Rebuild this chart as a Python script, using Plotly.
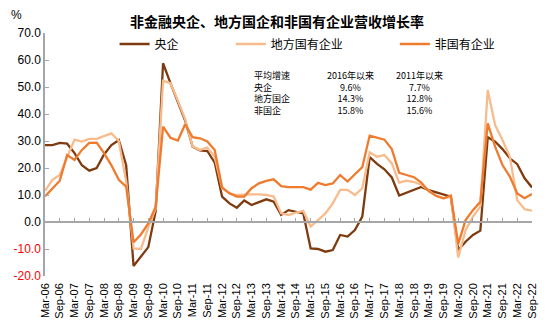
import plotly.graph_objects as go

# ---------------- data ----------------
months = ["Mar", "Jun", "Sep", "Dec"]
quarters = [f"{months[q]}-{y:02d}" for y in range(6, 23) for q in range(4)][:67]  # Mar-06 .. Sep-22

central = [28.5, 28.5, 29.3, 29.0, 25.5, 21.0, 19.0, 20.0, 25.0, 28.5, 30.3, 21.0,
           -16.3, -13.0, -9.3, 4.0, 58.8, 51.4, 44.5, 37.5, 27.9, 26.5, 26.3, 22.0,
           9.4, 6.9, 5.3, 8.0, 6.3, 7.5, 8.4, 7.5, 2.6, 4.4, 3.8, 3.2,
           -9.8, -10.0, -11.0, -10.4, -4.8, -5.4, -3.0, 2.0, 24.0, 21.5, 19.5, 16.5,
           9.8, 10.8, 12.0, 13.0, 11.8, 11.0, 10.0, 9.4, -10.4, -7.3, -4.8, -3.2,
           31.4, 29.8, 27.0, 23.6, 21.4, 16.2, 12.8]
local_soe = [11.5, 15.6, 17.4, 24.0, 30.5, 29.8, 30.8, 30.8, 31.7, 32.8, 30.0, 15.0,
             -9.8, -10.0, -2.0, 5.0, 52.3, 51.4, 45.0, 38.0, 28.0, 26.7, 27.6, 24.2,
             12.5, 10.6, 10.0, 10.2, 10.2, 10.2, 10.0, 9.4, 3.2, 2.6, 3.5, 4.1,
             -1.7, 0.7, 3.2, 6.9, 11.9, 11.9, 10.0, 12.5, 25.8, 24.2, 24.8, 21.7,
             14.6, 15.3, 14.8, 13.8, 11.6, 9.6, 8.8, 9.4, -13.1, -3.0, 2.0, 5.7,
             48.9, 35.9, 30.4, 24.2, 8.1, 4.7, 4.2]
private = [9.5, 12.5, 15.3, 24.8, 23.0, 26.7, 29.3, 29.4, 25.5, 21.0, 15.6, 13.1,
           -7.5, -4.6, -0.5, 5.7, 35.3, 31.2, 30.2, 36.2, 31.4, 31.0, 29.8, 26.7,
           12.8, 10.6, 9.4, 9.4, 12.5, 14.3, 15.2, 15.8, 13.3, 12.9, 12.9, 12.9,
           12.0, 14.5, 13.7, 14.3, 17.4, 15.0, 17.7, 20.3, 32.0, 31.3, 30.5, 27.0,
           18.2, 17.4, 16.6, 14.6, 11.4, 9.7, 8.8, 9.8, -8.1, 0.7, 4.4, 7.5,
           36.5, 27.9, 21.1, 16.8, 10.6, 8.8, 10.4]

series_names = ["央企", "地方国有企业", "非国有企业"]
series_colors = ["#7F3B10", "#F8BB8C", "#EE7B2E"]

y_ticks = [-20, -10, 0, 10, 20, 30, 40, 50, 60, 70]

table_rows = ["平均增速", "央企", "地方国企", "非国企"]
col_2016 = ["2016年以来", "9.6%", "14.3%", "15.8%"]
col_2011 = ["2011年以来", "7.7%", "12.8%", "15.6%"]

title = "非金融央企、地方国企和非国有企业营收增长率"

# ---------------- figure ----------------
W, H = 550, 334
ML, MR, MT, MB = 45, 15, 33, 58
PW, PH = W - ML - MR, H - MT - MB

def px_x(p):
    return (p - ML) / PW

def px_y(p):
    return (H - MB - p) / PH

xs = list(range(len(quarters)))
fig = go.Figure()
legend_ids = ["legend", "legend2", "legend3"]
for name, vals, col, lg in zip(series_names, [central, local_soe, private], series_colors, legend_ids):
    fig.add_trace(go.Scatter(x=xs, y=vals, mode="lines", name=name,
                             line=dict(color=col, width=2.3), legend=lg))
# invisible trace on the zero-line axis so it draws
fig.add_trace(go.Scatter(x=[xs[0], xs[-1]], y=[0, 0], xaxis="x2", mode="lines",
                         line=dict(width=0), showlegend=False, hoverinfo="skip"))

tickvals = xs[::2]
ticktext = quarters[::2]

def ylab(v):
    s = f"{v:.1f}"
    return f'<span style="color:#FF0000">{s}</span>' if v < 0 else s

legend_x = [123, 240, 405]
leg_common = dict(orientation="h", yanchor="middle", xanchor="left",
                  font=dict(family="Noto Sans CJK SC", size=12, color="#000"),
                  bgcolor="rgba(0,0,0,0)", itemwidth=30, tracegroupgap=0)

layout_legends = {}
for lg, lx in zip(legend_ids, legend_x):
    layout_legends[lg] = dict(leg_common, x=px_x(lx - 8), y=px_y(44))

zero_pos = (0 - y_ticks[0]) / (y_ticks[-1] - y_ticks[0])

fig.update_layout(
    width=W, height=H,
    margin=dict(l=ML, r=MR, t=MT, b=MB),
    paper_bgcolor="white", plot_bgcolor="white",
    showlegend=True,
    title=dict(text=f"<b>{title}</b>", x=277 / W, xanchor="center",
               y=1 - 22 / H, yanchor="middle",
               font=dict(family="Noto Sans CJK SC", size=14, color="#000")),
    xaxis=dict(range=[xs[0], xs[-1]], tickmode="array", tickvals=tickvals, ticktext=ticktext,
               tickangle=-90, showline=False, ticks="", showgrid=False, zeroline=False,
               tickfont=dict(family="Liberation Sans", size=11, color="#000"),
               ticklabelstandoff=4),
    xaxis2=dict(overlaying="x", anchor="free", position=zero_pos, range=[xs[0], xs[-1]],
                tickmode="array", tickvals=tickvals, showticklabels=False,
                ticks="inside", ticklen=3, tickcolor="#A6A6A6", tickwidth=1,
                showline=True, linecolor="#A6A6A6", linewidth=1.5, showgrid=False, zeroline=False),
    yaxis=dict(range=[y_ticks[0], y_ticks[-1]], tickmode="array", tickvals=y_ticks,
               ticktext=[ylab(v) for v in y_ticks], showline=True, linecolor="#A6A6A6",
               linewidth=1.5, ticks="inside", ticklen=4, tickcolor="#A6A6A6",
               showgrid=False, zeroline=False,
               tickfont=dict(family="Liberation Sans", size=12, color="#000")),
    **layout_legends,
)

annos = [dict(text="%", xref="paper", yref="paper", x=px_x(16), y=px_y(15),
              xanchor="center", yanchor="middle", showarrow=False,
              font=dict(family="Liberation Sans", size=12, color="#000"))]
tfont = dict(family="Noto Sans CJK SC", size=9, color="#000")
table_mid_y = 93.3
for lines, xpos, anchor, align in [(table_rows, 253, "left", "left"),
                                   (col_2016, 352, "center", "center"),
                                   (col_2011, 421.5, "center", "center")]:
    annos.append(dict(text="<br>".join(lines), xref="paper", yref="paper",
                      x=px_x(xpos), y=px_y(table_mid_y), xanchor=anchor, yanchor="middle",
                      align=align, showarrow=False, font=tfont))
fig.update_layout(annotations=annos)

fig.write_html("out.html")
